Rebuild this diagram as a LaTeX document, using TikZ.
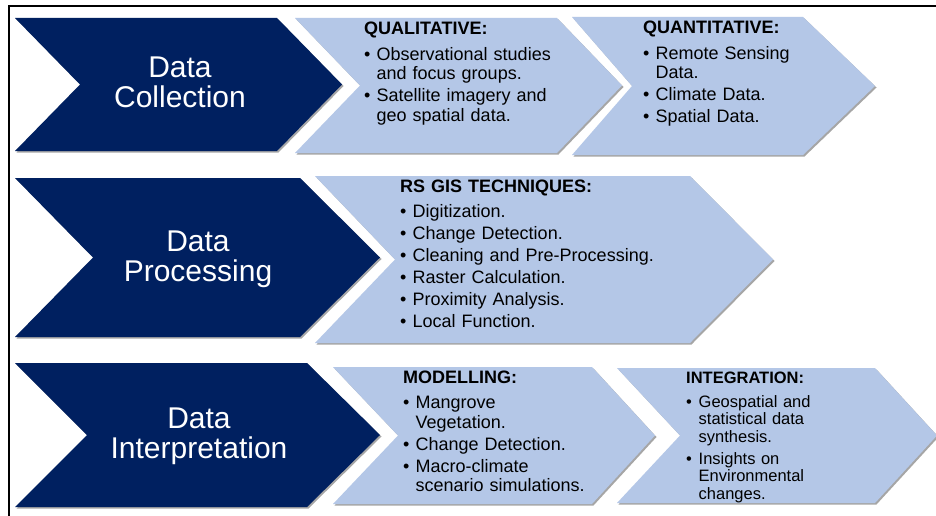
\documentclass[tikz,border=0pt]{standalone}
\usepackage{fontspec}
\setmainfont{Liberation Sans}
\usepackage{xcolor}
\usepackage{tikz}
\usetikzlibrary{shadows}

\definecolor{navy}{RGB}{0,32,96}
\definecolor{paleblue}{RGB}{180,199,231}

% #1 style, #2 left, #3 top, #4 bottom, #5 right, #6 tip, #7 notch
\newcommand{\chevron}[7]{%
  \fill[#1] (#2,#3) -- (#5,#3) -- (#6,{(#3+#4)/2}) -- (#5,#4) -- (#2,#4)
    -- (#7,{(#3+#4)/2}) -- cycle;}
\newcommand{\bitem}[1]{\par\hangindent=12.5pt\hangafter=1\noindent
  \hbox to 12.5pt{\textbullet\hfil}#1}

\tikzset{
  shade/.style={drop shadow={shadow xshift=1.5pt, shadow yshift=-1.5pt,
    opacity=0.35, fill=black}},
  darkchev/.style={fill=navy, shade},
  lightchev/.style={fill=paleblue, shade},
  title/.style={text=white, inner sep=0pt, align=center,
    font=\fontsize{30}{30}\selectfont},
  list/.style={anchor=base west, inner sep=0pt, text width=300pt, align=left,
    font=\fontsize{18}{19.5}\selectfont,
    execute at begin node=\setlength{\parskip}{2.5pt}},
}

\begin{document}
\begin{tikzpicture}[x=1pt, y=-1pt]
  \useasboundingbox (0,0) rectangle (936,516);
  \fill[white] (0,0) rectangle (936,516);
  \draw[line width=2pt] (9,516) -- (9,6) -- (936,6);

  % collection row
  \chevron{darkchev}{15}{18}{151}{277}{342}{80}
  \chevron{lightchev}{295}{18}{153}{557}{622}{360}
  \chevron{lightchev}{572}{17}{155}{803}{875}{632}
  % processing row
  \chevron{darkchev}{15}{178}{337}{300}{380}{93}
  \chevron{lightchev}{315}{176}{343}{690}{773}{395}
  % interpretation row
  \chevron{darkchev}{15}{363}{507}{307}{380}{87}
  \chevron{lightchev}{333}{367}{504}{592}{655}{398}
  \chevron{lightchev}{617}{368}{503}{875}{937}{680}

  \node[title] (collect) at (180,82) {Data\\Collection};
  \node[title] (process) at (198,259) {Data\\Processing};
  \node[title] (interp) at (199,436) {Data\\Interpretation};

  % last \par keeps the hanging indent inside the node group
  \node[list] (qual) at (364,35) {\textbf{QUALITATIVE:}\par\vspace{3.5pt}
    \bitem{Observational studies\newline and focus groups.}
    \bitem{Satellite imagery and\newline geo spatial data.}\par};
  \node[list] (quant) at (643,34) {\textbf{QUANTITATIVE:}\par\vspace{3.5pt}
    \bitem{Remote Sensing\newline Data.}
    \bitem{Climate Data.}
    \bitem{Spatial Data.}\par};
  \node[list] (rsgis) at (400,192) {\textbf{RS GIS TECHNIQUES:}\par\vspace{3.5pt}
    \bitem{Digitization.}
    \bitem{Change Detection.}
    \bitem{Cleaning and Pre-Processing.}
    \bitem{Raster Calculation.}
    \bitem{Proximity Analysis.}
    \bitem{Local Function.}\par};
  \node[list] (model) at (403,383) {\textbf{MODELLING:}\par\vspace{3.5pt}
    \bitem{Mangrove\newline Vegetation.}
    \bitem{Change Detection.}
    \bitem{Macro-climate\newline scenario simulations.}\par};
  \node[list, font=\fontsize{16.5}{17.5}\selectfont,
    execute at begin node=\setlength{\parskip}{4.5pt}]
    (integ) at (686,383) {\textbf{INTEGRATION:}\par\vspace{2pt}
    \bitem{Geospatial and\newline statistical data\newline synthesis.}
    \bitem{Insights on\newline Environmental\newline changes.}\par};
\end{tikzpicture}
\end{document}
